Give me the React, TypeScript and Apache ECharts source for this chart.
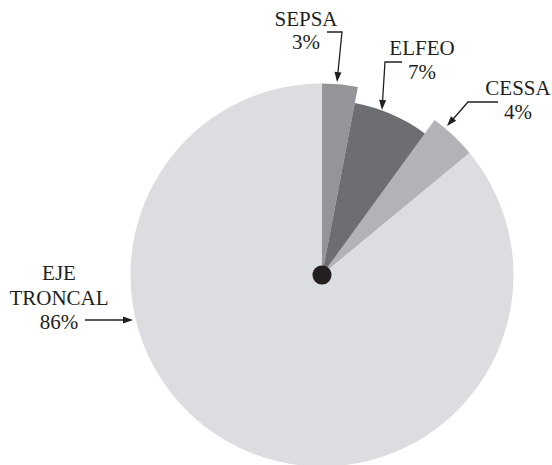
import React, { useEffect, useRef } from "react";
import * as echarts from "echarts";

const categories = ["SEPSA", "ELFEO", "CESSA", "EJE TRONCAL"];
const shares = [3, 7, 4, 86];
const colors = ["#939598", "#6d6e71", "#b1b3b6", "#dcdde0"];

const INK = "#231f20";

function arrow(points: number[][]) {
  const n = points.length;
  const [x1, y1] = points[n - 2];
  const [x2, y2] = points[n - 1];
  const a = Math.atan2(y2 - y1, x2 - x1);
  const L = 10, W = 3.5;
  const bx = x2 - L * Math.cos(a), by = y2 - L * Math.sin(a);
  const px = -Math.sin(a), py = Math.cos(a);
  const line = points.slice(0, n - 1).concat([[bx + 2 * Math.cos(a), by + 2 * Math.sin(a)]]);
  return [
    { type: "polyline", shape: { points: line }, style: { stroke: INK, lineWidth: 1.3, fill: null }, silent: true },
    {
      type: "polygon",
      shape: { points: [[x2, y2], [bx + W * px, by + W * py], [bx - W * px, by - W * py]] },
      style: { fill: INK },
      silent: true,
    },
  ];
}

function label(lines: string[], x: number, ys: number[]) {
  return lines.map((t, i) => ({
    type: "text",
    x: x,
    y: ys[i],
    style: {
      text: t,
      fontFamily: "Liberation Serif",
      fontSize: 21,
      fill: INK,
      textAlign: "center",
      textVerticalAlign: "middle",
    },
    silent: true,
  }));
}

export default function App() {
  const ref = useRef<HTMLDivElement>(null);
  useEffect(() => {
    if (!ref.current) return;
    const chart = echarts.init(ref.current, null, { renderer: "svg" });
    const pct = (i: number) => `${shares[i]}%`;
    const baseData = categories.map((c, i) => ({
      name: c,
      value: shares[i],
      itemStyle: { color: colors[i], opacity: c === "ELFEO" ? 0 : 1 },
    }));
    const innerData = categories.map((c, i) => ({
      name: c,
      value: shares[i],
      itemStyle: { color: colors[i], opacity: c === "ELFEO" ? 1 : 0 },
    }));
    const graphics: any[] = [
      ...label([categories[0], pct(0)], 306, [19, 42]),
      ...arrow([[327, 32], [342, 32], [337, 82]]),
      ...label([categories[1], pct(1)], 422, [48, 72]),
      ...arrow([[402, 62], [385, 62], [382, 110]]),
      ...label([categories[2], pct(2)], 518, [88, 112]),
      ...arrow([[498, 102], [468, 102], [447, 126]]),
      ...label(["EJE", "TRONCAL", pct(3)], 59, [273, 298, 322]),
      ...arrow([[85, 320], [133, 320]]),
      { type: "circle", shape: { cx: 322, cy: 275, r: 9.5 }, style: { fill: INK }, silent: true, z: 100 },
    ];
    chart.setOption({
      animation: false,
      backgroundColor: "#ffffff",
      textStyle: { fontFamily: "Liberation Serif" },
      series: [
        {
          type: "pie",
          center: [322, 275],
          radius: [0, 191.5],
          startAngle: 90,
          clockwise: true,
          label: { show: false },
          labelLine: { show: false },
          silent: true,
          itemStyle: { borderWidth: 0 },
          data: baseData,
        },
        {
          type: "pie",
          center: [322, 275],
          radius: [0, 175],
          startAngle: 90,
          clockwise: true,
          label: { show: false },
          labelLine: { show: false },
          silent: true,
          itemStyle: { borderWidth: 0 },
          data: innerData,
        },
      ],
      graphic: graphics,
    });
    return () => chart.dispose();
  }, []);
  return (
    <div
      ref={ref}
      style={{ position: "fixed", left: 0, top: 0, width: 552, height: 465 }}
    />
  );
}
